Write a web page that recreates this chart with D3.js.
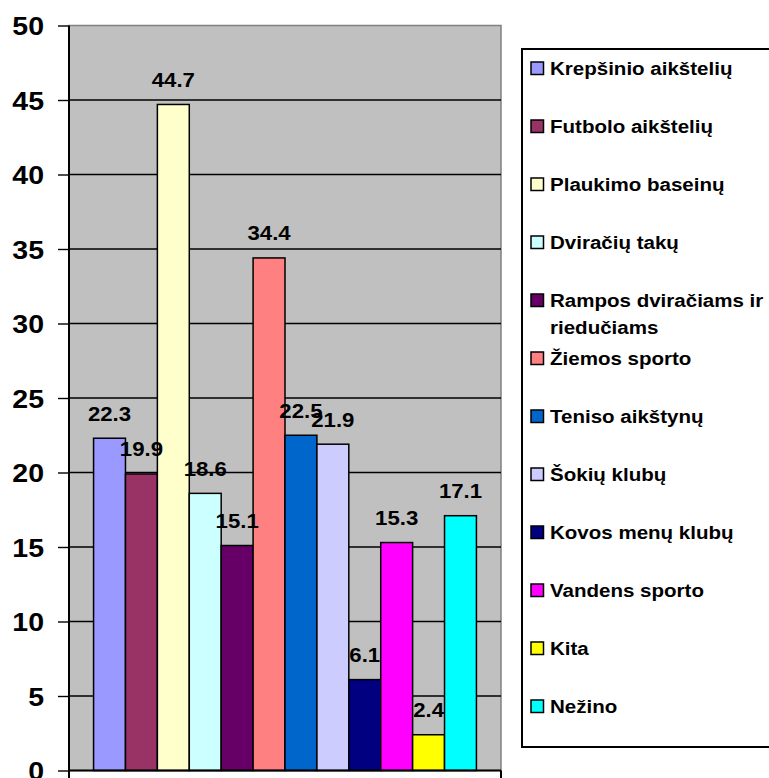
<!DOCTYPE html>
<html>
<head>
<meta charset="utf-8">
<script src="https://cdn.jsdelivr.net/npm/d3@7"></script>
<style>
  html, body { margin: 0; padding: 0; background: #fff; }
  svg { display: block; }
  text { font-family: "Liberation Sans", Arial, sans-serif; font-weight: bold; fill: #000; }
</style>
</head>
<body>
<svg id="chart" width="769" height="778"></svg>
<script>
// Series (one category, twelve answers)
const seriesNames = [
  'Krepšinio aikštelių', 'Futbolo aikštelių', 'Plaukimo baseinų', 'Dviračių takų',
  'Rampos dviračiams ir riedučiams', 'Žiemos sporto', 'Teniso aikštynų', 'Šokių klubų',
  'Kovos menų klubų', 'Vandens sporto', 'Kita', 'Nežino'
];
const seriesValues = [22.3, 19.9, 44.7, 18.6, 15.1, 34.4, 22.5, 21.9, 6.1, 15.3, 2.4, 17.1];
const seriesColors = [
  '#9999FF', '#993366', '#FFFFCC', '#CCFFFF', '#660066', '#FF8080',
  '#0066CC', '#CCCCFF', '#000080', '#FF00FF', '#FFFF00', '#00FFFF'
];
// legend lines (wrapped as in the picture)
const legendLines = [
  ['Krepšinio aikštelių'], ['Futbolo aikštelių'], ['Plaukimo baseinų'], ['Dviračių takų'],
  ['Rampos dviračiams ir', 'riedučiams'], ['Žiemos sporto'], ['Teniso aikštynų'], ['Šokių klubų'],
  ['Kovos menų klubų'], ['Vandens sporto'], ['Kita'], ['Nežino']
];
const yTicks = [0, 5, 10, 15, 20, 25, 30, 35, 40, 45, 50];

const SX = 1.11; // the picture's text is a bit wider than plain Arial
const svg = d3.select('#chart');

const plot = { left: 69, right: 501, top: 25.5, bottom: 770.5 };

const y = d3.scaleLinear().domain([0, 50]).range([plot.bottom, plot.top]);
const x = d3.scaleBand()
  .domain(seriesNames)
  .range([plot.left, plot.right])
  .paddingInner(0)
  .paddingOuter(0.77);

// plot background
svg.append('rect')
  .attr('x', plot.left).attr('y', plot.top)
  .attr('width', plot.right - plot.left).attr('height', plot.bottom - plot.top)
  .attr('fill', '#C0C0C0')
  .attr('stroke', '#808080').attr('stroke-width', 1.5);

// gridlines
svg.append('g')
  .selectAll('line')
  .data(yTicks.filter((d) => d > 0 && d < 50))
  .join('line')
  .attr('x1', plot.left).attr('x2', plot.right)
  .attr('y1', (d) => y(d)).attr('y2', (d) => y(d))
  .attr('stroke', '#000').attr('stroke-width', 1.4);

// bars
const data = seriesNames.map((name, i) => ({ name, value: seriesValues[i], color: seriesColors[i] }));
svg.append('g')
  .selectAll('rect')
  .data(data)
  .join('rect')
  .attr('x', (d) => x(d.name))
  .attr('y', (d) => y(d.value))
  .attr('width', x.bandwidth())
  .attr('height', (d) => y(0) - y(d.value))
  .attr('fill', (d) => d.color)
  .attr('stroke', '#000').attr('stroke-width', 1.5);

// value labels
svg.append('g')
  .selectAll('text')
  .data(data)
  .join('text')
  .attr('transform', (d) => `translate(${x(d.name) + x.bandwidth() / 2},${y(d.value) - 17.5}) scale(${SX},1)`)
  .attr('text-anchor', 'middle')
  .style('font-size', '20px')
  .text((d) => d.value.toFixed(1));

// y axis
const yAxis = svg.append('g').attr('transform', `translate(${plot.left},0)`)
  .call(d3.axisLeft(y).tickValues(yTicks).tickSize(11).tickPadding(0).tickFormat(d3.format('d')));
yAxis.select('.domain').remove();
yAxis.selectAll('.tick line').attr('stroke', '#000').attr('stroke-width', 1.4);
yAxis.selectAll('.tick text')
  .attr('x', null).attr('dy', null)
  .attr('transform', `translate(-25,9) scale(${SX + 0.03},1)`)
  .attr('text-anchor', 'end')
  .style('font-size', '25px')
  .style('font-family', '"Liberation Sans", Arial, sans-serif')
  .style('font-weight', 'bold');
svg.append('line')
  .attr('x1', plot.left).attr('x2', plot.left)
  .attr('y1', plot.top).attr('y2', plot.bottom + 8)
  .attr('stroke', '#000').attr('stroke-width', 2);

// x axis line with end ticks
svg.append('line')
  .attr('x1', plot.left).attr('x2', plot.right)
  .attr('y1', plot.bottom).attr('y2', plot.bottom)
  .attr('stroke', '#000').attr('stroke-width', 2);
svg.append('line')
  .attr('x1', plot.right).attr('x2', plot.right)
  .attr('y1', plot.bottom).attr('y2', plot.bottom + 8)
  .attr('stroke', '#000').attr('stroke-width', 2);

// legend
const legend = svg.append('g');
legend.append('rect')
  .attr('x', 522).attr('y', 49)
  .attr('width', 260).attr('height', 698)
  .attr('fill', '#fff').attr('stroke', '#000').attr('stroke-width', 2);

const legendY = d3.scaleLinear().domain([0, 11]).range([68.5, 706.5]);
const items = legend.selectAll('g.item')
  .data(legendLines.map((lines, i) => ({ lines, color: seriesColors[i], i })))
  .join('g')
  .attr('class', 'item')
  .attr('transform', (d) => `translate(0,${legendY(d.i)})`);

items.append('rect')
  .attr('x', 531).attr('y', -6.5)
  .attr('width', 12.5).attr('height', 12.5)
  .attr('fill', (d) => d.color)
  .attr('stroke', '#000').attr('stroke-width', 1.5);

items.each(function (d) {
  d3.select(this).selectAll('text')
    .data(d.lines)
    .join('text')
    .attr('transform', (t, k) => `translate(550,${6.7 + k * 27}) scale(${SX},1)`)
    .style('font-size', '18.5px')
    .text((t) => t);
});
</script>
</body>
</html>
